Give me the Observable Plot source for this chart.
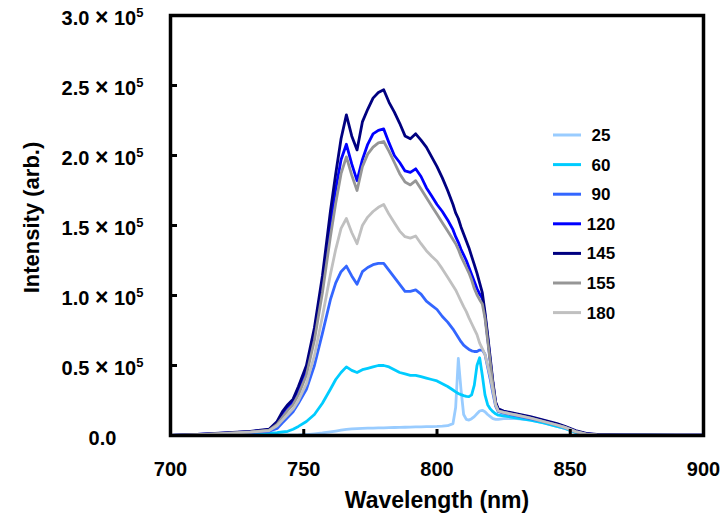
<!DOCTYPE html>
<html><head><meta charset="utf-8">
<script src="https://cdn.jsdelivr.net/npm/d3@7"></script>
<script src="https://cdn.jsdelivr.net/npm/@observablehq/plot@0.6"></script>
<style>
body{margin:0;background:#fff;}
#chart svg{font-family:"Liberation Sans",Arial,Helvetica,sans-serif;font-weight:bold;}
</style>
</head><body><div id="chart"></div>
<script>
// Wavelength grid (nm)
const wavelengths = [700,710,720,730,737, 740,742,744,746,748, 751,754,757,760,762, 764,766,768,770,772,
  774,776,778,780,782, 784,786,788,790,792, 794,796,798,800,802, 804,806,807,808,809,
  810,811,812,813,814, 815,816,817,818,819, 820,821,822,823,825, 830,835,840,845,848,
  852,856,860,870,880, 890,900];

// Series names and colours (legend order)
const seriesNames = ["25","60","90","120","145","155","180"];
const seriesColors = ["#99CCFF","#00CCFF","#3366FF","#0000FF","#000080","#969696","#C0C0C0"];

// Intensity values in units of 10^5 (arb.)
const s25 = [0.000,0.000,0.000,0.000,0.000, 0.000,0.001,0.002,0.003,0.004, 0.007,0.012,0.018,0.026,0.032, 0.038,0.044,0.047,0.049,0.051,
  0.052,0.053,0.054,0.055,0.056, 0.057,0.058,0.059,0.060,0.061, 0.062,0.063,0.064,0.065,0.067, 0.070,0.085,0.20,0.55,0.33,
  0.15,0.115,0.11,0.12,0.135, 0.155,0.175,0.18,0.17,0.15, 0.135,0.12,0.115,0.115,0.12, 0.12,0.11,0.09,0.065,0.05,
  0.022,0.008,0.004,0.002,0.002, 0.001,0.001];
const s60 = [0.000,0.002,0.005,0.010,0.015, 0.02,0.025,0.03,0.045,0.065, 0.10,0.15,0.23,0.33,0.40, 0.45,0.49,0.465,0.45,0.47,
  0.48,0.49,0.50,0.50,0.49, 0.47,0.45,0.44,0.43,0.43, 0.42,0.41,0.40,0.39,0.37, 0.35,0.325,0.312,0.30,0.292,
  0.285,0.28,0.278,0.29,0.36, 0.50,0.555,0.43,0.29,0.22, 0.19,0.17,0.155,0.145,0.14, 0.125,0.11,0.09,0.065,0.05,
  0.022,0.008,0.004,0.002,0.002, 0.001,0.001];
const s90 = [0.000,0.004,0.010,0.020,0.030, 0.05,0.09,0.13,0.17,0.23, 0.33,0.50,0.73,0.97,1.09, 1.17,1.21,1.14,1.08,1.17,
  1.20,1.22,1.23,1.23,1.18, 1.13,1.08,1.03,1.03,1.04, 1.01,0.96,0.93,0.90,0.85, 0.81,0.76,0.73,0.70,0.67,
  0.645,0.63,0.615,0.605,0.60, 0.60,0.61,0.61,0.58,0.49, 0.40,0.30,0.21,0.17,0.16, 0.14,0.12,0.10,0.075,0.057,
  0.028,0.01,0.005,0.003,0.002, 0.002,0.001];
const s120 = [0.000,0.007,0.016,0.028,0.040, 0.09,0.15,0.20,0.24,0.32, 0.47,0.74,1.10,1.52,1.76, 1.97,2.08,1.94,1.82,1.97,
  2.08,2.155,2.18,2.19,2.09, 2.00,1.95,1.89,1.88,1.905, 1.85,1.77,1.71,1.65,1.60, 1.54,1.47,1.42,1.38,1.33,
  1.29,1.25,1.20,1.15,1.10, 1.05,1.01,0.98,0.86,0.70, 0.53,0.37,0.23,0.18,0.17, 0.15,0.13,0.105,0.08,0.06,
  0.03,0.012,0.006,0.004,0.003, 0.002,0.002];
const s145 = [0.000,0.008,0.018,0.030,0.045, 0.10,0.17,0.22,0.26,0.35, 0.50,0.77,1.14,1.60,1.87, 2.12,2.29,2.14,2.04,2.24,
  2.33,2.41,2.45,2.47,2.38, 2.31,2.23,2.14,2.12,2.155, 2.11,2.06,1.99,1.92,1.84, 1.75,1.65,1.59,1.55,1.49,
  1.44,1.39,1.34,1.28,1.22, 1.16,1.09,1.02,0.88,0.72, 0.55,0.38,0.24,0.19,0.175, 0.155,0.135,0.11,0.085,0.065,
  0.035,0.015,0.008,0.005,0.004, 0.003,0.002];
const s155 = [0.000,0.006,0.015,0.026,0.038, 0.08,0.13,0.18,0.22,0.29, 0.43,0.68,1.02,1.42,1.66, 1.87,1.99,1.86,1.75,1.92,
  2.01,2.06,2.09,2.10,2.03, 1.95,1.87,1.81,1.79,1.82, 1.76,1.70,1.64,1.58,1.52, 1.46,1.40,1.37,1.33,1.28,
  1.24,1.20,1.16,1.11,1.05, 1.005,0.97,0.94,0.84,0.68, 0.52,0.36,0.22,0.175,0.165, 0.145,0.125,0.10,0.075,0.058,
  0.028,0.01,0.005,0.003,0.002, 0.002,0.001];
const s180 = [0.000,0.005,0.013,0.024,0.035, 0.07,0.11,0.15,0.19,0.25, 0.37,0.57,0.85,1.15,1.33, 1.48,1.55,1.45,1.37,1.50,
  1.56,1.60,1.63,1.65,1.58, 1.52,1.46,1.42,1.41,1.425, 1.37,1.32,1.28,1.245,1.19, 1.13,1.07,1.04,1.00,0.96,
  0.92,0.885,0.84,0.80,0.76, 0.72,0.66,0.62,0.58,0.50, 0.42,0.32,0.22,0.175,0.165, 0.145,0.125,0.10,0.075,0.058,
  0.028,0.01,0.005,0.003,0.002, 0.002,0.001];

// Axis ticks
const xTicks = [700,750,800,850,900];
const yTicks = [0,0.5,1.0,1.5,2.0,2.5,3.0];

const seriesValues = [s25,s60,s90,s120,s145,s155,s180];
const data = seriesNames.flatMap((name,i) => wavelengths.map((w,j) => ({series:name, wl:w, v:seriesValues[i][j]})));

const W = 726, H = 517, mL = 170, mR = 23, mT = 15, mB = 82;
const innerW = W - mL - mR, innerH = H - mT - mB;
const FONT = '"Liberation Sans",Arial,Helvetica,sans-serif';

const plot = Plot.plot({
  width: W, height: H,
  marginLeft: mL, marginRight: mR, marginTop: mT, marginBottom: mB,
  style: {fontFamily: FONT, fontWeight: "bold", background: "white", color: "black"},
  x: {domain: [700, 900]},
  y: {domain: [0, 3]},
  color: {domain: seriesNames, range: seriesColors},
  marks: [
    Plot.line(data, {x: "wl", y: "v", stroke: "series", z: "series", strokeWidth: 2.8}),
    Plot.tickX(xTicks.slice(1, -1), {x: d => d, insetTop: innerH - 6, stroke: "black", strokeWidth: 3}),
    Plot.tickY(yTicks.slice(1, -1), {y: d => d, insetRight: innerW - 7, stroke: "black", strokeWidth: 3}),
    Plot.frame({stroke: "black", strokeWidth: 3.5}),
    Plot.axisX({ticks: xTicks, tickSize: 0, tickPadding: 26, fontSize: 20, label: null, tickFormat: d => String(d)}),
    Plot.axisY({ticks: yTicks, tickSize: 0, tickPadding: 68, textAnchor: "middle", fontSize: 20, dy: 3, label: null,
      tickFormat: d => d === 0 ? "0.0" : `${d.toFixed(1)} × 10⁵`}),
    Plot.text(["Wavelength (nm)"], {frameAnchor: "bottom", dy: 72, fontSize: 23, fontWeight: "bold"}),
    Plot.text(["Intensity (arb.)"], {frameAnchor: "left", textAnchor: "middle", dx: -139, dy: -8, rotate: -90, fontSize: 22, fontWeight: "bold"})
  ]
});

const svg = d3.select(plot);
// superscript exponent in y tick labels
svg.selectAll('g[aria-label="y-axis tick label"] text').each(function() {
  const t = this.textContent;
  const m = t.match(/^(.*) × 10⁵$/);
  if (!m) return;
  const el = d3.select(this);
  el.text(null);
  el.append("tspan").text(m[1] + " ");
  el.append("tspan").attr("font-size", 23).text("×");
  el.append("tspan").text(" 10");
  el.append("tspan").attr("font-size", 13).attr("dy", "-0.6em").text("5");
});

// legend
const lg = svg.append("g").attr("font-family", FONT).attr("font-weight", "bold").attr("font-size", 17);
seriesNames.forEach((name, i) => {
  const y = 135 + i * 29.6;
  lg.append("line").attr("x1", 553).attr("x2", 581).attr("y1", y).attr("y2", y)
    .attr("stroke", seriesColors[i]).attr("stroke-width", 3);
  lg.append("text").attr("x", 601).attr("y", y).attr("dy", "0.35em").attr("text-anchor", "middle")
    .attr("fill", "black").text(name);
});

document.getElementById("chart").appendChild(plot);
</script>
</body></html>
